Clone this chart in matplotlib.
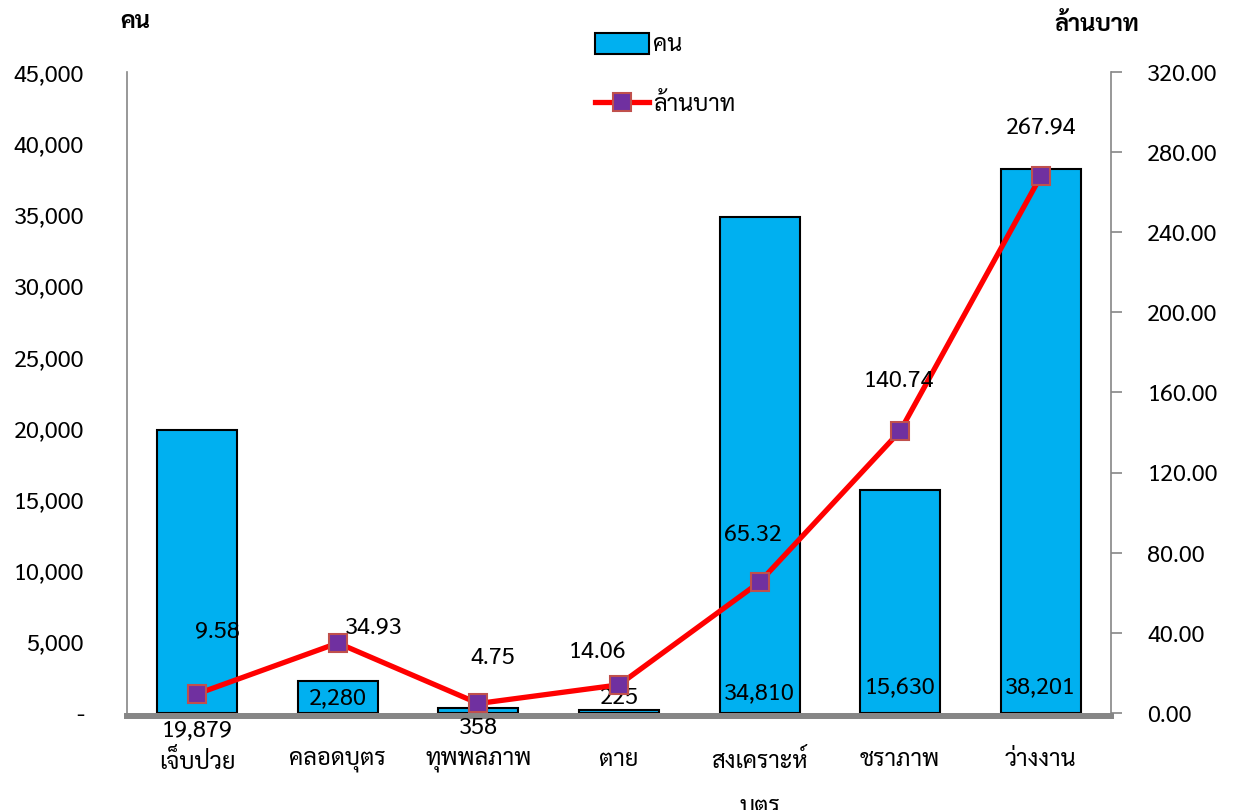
import matplotlib
matplotlib.use('Agg')
import matplotlib.pyplot as plt
from matplotlib.patches import Patch
from matplotlib.lines import Line2D
from matplotlib.ticker import FuncFormatter, MultipleLocator

plt.rcParams['font.family'] = ['Sarabun', 'DejaVu Sans']

categories = ['เจ็บป่วย', 'คลอดบุตร', 'ทุพพลภาพ', 'ตาย', 'สงเคราะห์\nบุตร', 'ชราภาพ', 'ว่างงาน']
persons = [19879, 2280, 358, 225, 34810, 15630, 38201]
million_baht = [9.58, 34.93, 4.75, 14.06, 65.32, 140.74, 267.94]

# label offsets in pixels (dx, dy) relative to each point
person_label_dy = [-17, 15, -15, 15, 20, 25, 26]
baht_label_off = [(20, 63), (36, 16), (14, 46), (-22, 33), (-7, 47), (-1, 50), (0, 48)]

BAR = '#00B0F0'
LINE = '#FF0000'
MARK = '#7030A0'
MARK_EDGE = '#C0504D'
AXIS = '#868686'
FS = 17
PX = 0.72  # points per pixel at dpi 100

fig = plt.figure(figsize=(12.33, 8.1), dpi=100)
ax = fig.add_axes([127 / 1233, 1 - 713 / 810, (1111 - 127) / 1233, (713 - 72) / 810])
ax2 = ax.twinx()

x = list(range(len(categories)))
ax.bar(x, persons, width=0.57, color=BAR, edgecolor='black', linewidth=1.5, zorder=2)
ax.set_xlim(-0.5, len(categories) - 0.5)
ax.set_ylim(0, 45000)
ax.yaxis.set_major_locator(MultipleLocator(5000))
ax.yaxis.set_major_formatter(FuncFormatter(lambda v, p: '-' if v == 0 else f'{int(v):,}'))
ax.tick_params(axis='y', length=0, pad=43 * PX, labelsize=FS)
ax.tick_params(axis='x', length=0, labelbottom=False)

for s in ['top', 'right']:
    ax.spines[s].set_visible(False)
ax.spines['left'].set_color(AXIS)
ax.spines['left'].set_linewidth(1.2)
ax.spines['bottom'].set_color(AXIS)
ax.spines['bottom'].set_linewidth(4.3)
ax.spines['bottom'].set_position(('outward', 2))

for i, v in enumerate(persons):
    ax.annotate(f'{v:,}', (i, 0), xytext=(0, person_label_dy[i] * PX), textcoords='offset points',
                ha='center', va='center', fontsize=FS, zorder=5, annotation_clip=False)

for i, name in enumerate(categories):
    ax.annotate(name, (i, 0), xytext=(0, -36 * PX), textcoords='offset points',
                ha='center', va='top', fontsize=FS, linespacing=2.24, annotation_clip=False)

ax2.plot(x, million_baht, color=LINE, linewidth=3.8, marker='s', markersize=13.5,
         markerfacecolor=MARK, markeredgecolor=MARK_EDGE, markeredgewidth=1.5, zorder=3)
ax2.set_ylim(0, 320)
ax2.yaxis.set_major_locator(MultipleLocator(40))
ax2.yaxis.set_major_formatter(FuncFormatter(lambda v, p: f'{v:.2f}'))
ax2.tick_params(axis='y', length=8, width=1.2, color=AXIS, direction='out', pad=18, labelsize=FS)
for s in ['top', 'left', 'bottom']:
    ax2.spines[s].set_visible(False)
ax2.spines['right'].set_color(AXIS)
ax2.spines['right'].set_linewidth(1.2)

for i, v in enumerate(million_baht):
    dx, dy = baht_label_off[i]
    ax2.annotate(f'{v:.2f}', (i, v), xytext=(dx * PX, dy * PX), textcoords='offset points',
                 ha='center', va='center', fontsize=FS, zorder=6)

fig.text(135 / 1233, 1 - 22 / 810, 'คน', ha='center', va='center', fontsize=FS, fontweight='bold')
fig.text(1097 / 1233, 1 - 25 / 810, 'ล้านบาท', ha='center', va='center', fontsize=FS, fontweight='bold')

handles = [
    Patch(facecolor=BAR, edgecolor='black', linewidth=1.5),
    Line2D([], [], color=LINE, linewidth=3.8, marker='s', markersize=13.5,
           markerfacecolor=MARK, markeredgecolor=MARK_EDGE, markeredgewidth=1.5),
]
ax2.legend(handles, ['คน', 'ล้านบาท'], loc='upper left',
           bbox_to_anchor=(595 / 1233, 1 - 33 / 810), bbox_transform=fig.transFigure,
           frameon=False, fontsize=FS, borderpad=0, borderaxespad=0,
           handlelength=2.3, handleheight=0.97, handletextpad=0.17, labelspacing=1.52)

fig.savefig('out.png', dpi=100, facecolor='white')
